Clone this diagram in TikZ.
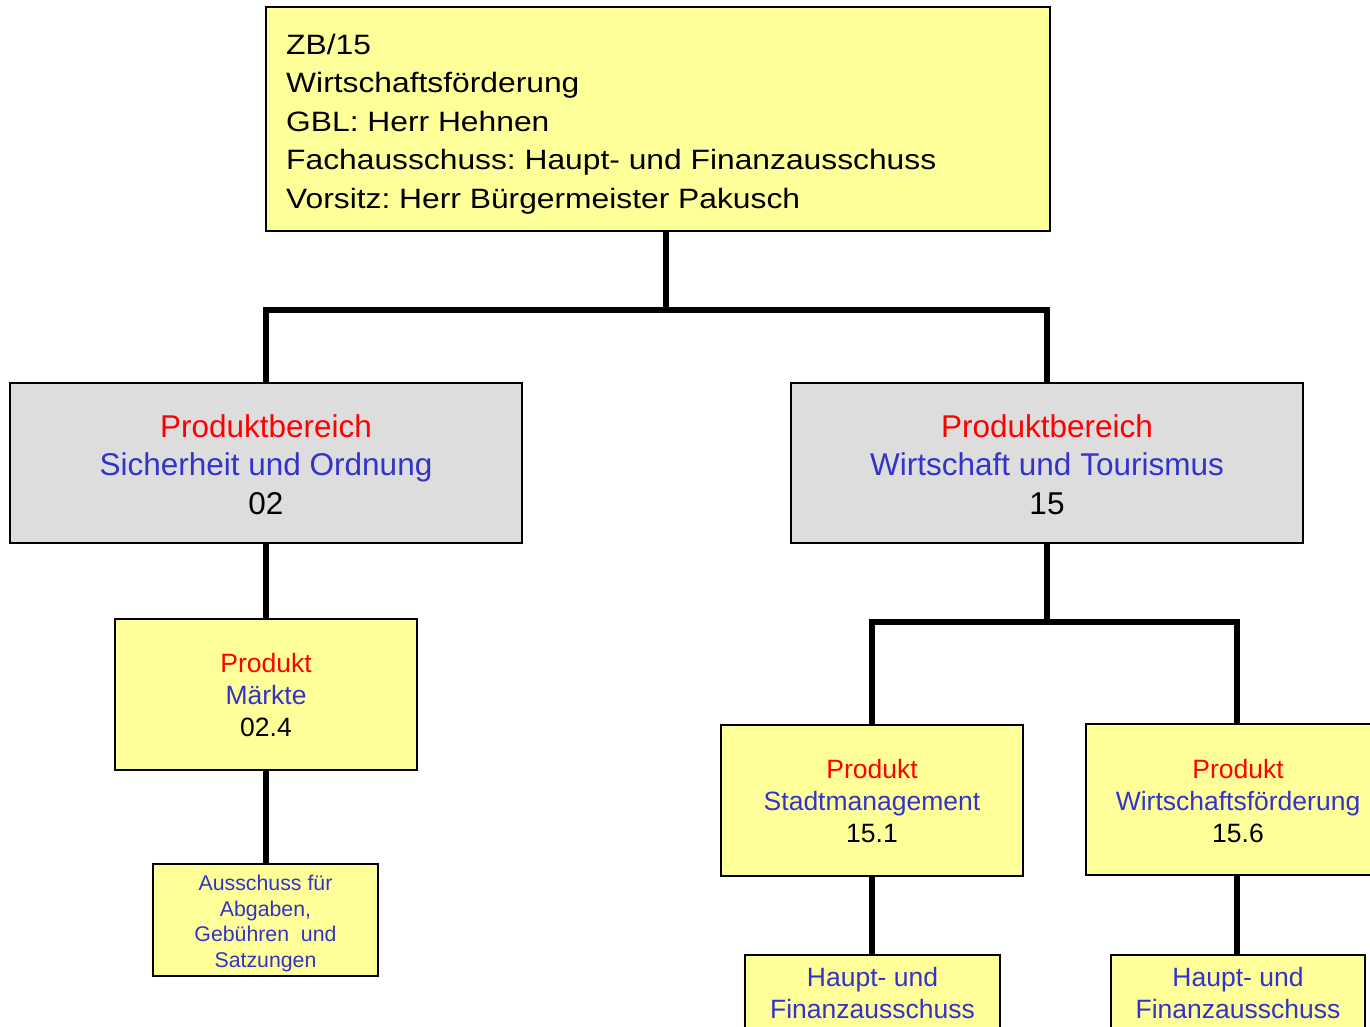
\documentclass[tikz,border=0pt]{standalone}
\usepackage{fontspec}
\setmainfont{Liberation Sans}
\newfontfamily\topfont[FakeStretch=1.135]{Liberation Sans}
\definecolor{boxyellow}{HTML}{FFFF99}
\definecolor{boxgrey}{HTML}{DDDDDD}
\definecolor{prodred}{HTML}{FF0000}
\definecolor{prodblue}{HTML}{3333CC}
\frenchspacing
\tikzset{
  box/.style={draw=black, line width=1.6pt, inner sep=0pt, rectangle},
  ybox/.style={box, fill=boxyellow},
  gbox/.style={box, fill=boxgrey},
  conn/.style={line width=6pt, black},
  txt/.style={inner sep=0pt, align=center, anchor=north},
  bigf/.style={font=\fontsize{31.5}{38.5}\selectfont},
  midf/.style={font=\fontsize{26.5}{32}\selectfont},
  smallf/.style={font=\fontsize{21.3}{25.6}\selectfont}
}
\begin{document}
\begin{tikzpicture}[x=1pt,y=-1pt]
\useasboundingbox (0,0) rectangle (1370,1027);
\clip (0,0) rectangle (1370,1027);
% boxes
\node[ybox, minimum width=784pt, minimum height=224pt] (top) at (658,119) {};
\node[gbox, minimum width=512pt, minimum height=160pt] (pbL) at (266,463) {};
\node[gbox, minimum width=512pt, minimum height=160pt] (pbR) at (1047,463) {};
\node[ybox, minimum width=302pt, minimum height=151pt] (p024) at (266,694.5) {};
\node[ybox, minimum width=225pt, minimum height=112pt] (aus) at (265.5,920) {};
\node[ybox, minimum width=302pt, minimum height=151pt] (p151) at (872,800.5) {};
\node[ybox, minimum width=302pt, minimum height=151pt] (p156) at (1237,799.5) {};
\node[ybox, minimum width=255pt, minimum height=112pt] (hL) at (872.5,1011) {};
\node[ybox, minimum width=254pt, minimum height=112pt] (hR) at (1238,1011) {};
% connectors
\coordinate (j1) at (666,310);
\coordinate (j2) at (1047,622);
\draw[conn] (top.south -| j1) -- (j1) -| (pbL.north);
\draw[conn] (j1) -| (pbR.north);
\draw[conn] (pbL.south) -- (p024.north);
\draw[conn] (p024.south) -- (p024.south |- aus.north);
\draw[conn] (pbR.south) -- (j2) -| (p151.north);
\draw[conn] (j2) -| (p156.north);
\draw[conn] (p151.south) -- (p151.south |- hL.north);
\draw[conn] (p156.south) -- (p156.south |- hR.north);
% texts
\node[inner sep=0pt, align=left, anchor=north west, font=\topfont\fontsize{28}{38.5}\selectfont] (toptxt) at (286,33.6)
  {ZB/15\\Wirtschaftsförderung\\GBL: Herr Hehnen\\Fachausschuss: Haupt- und Finanzausschuss\\Vorsitz: Herr Bürgermeister Pakusch};
\node[txt, bigf] (pbLtxt) at (266,414)
  {\textcolor{prodred}{Produktbereich}\\\textcolor{prodblue}{Sicherheit und Ordnung}\\02};
\node[txt, bigf] (pbRtxt) at (1047,414)
  {\textcolor{prodred}{Produktbereich}\\\textcolor{prodblue}{Wirtschaft und Tourismus}\\15};
\node[txt, midf] (p024txt) at (266,653.5)
  {\textcolor{prodred}{Produkt}\\\textcolor{prodblue}{Märkte}\\02.4};
\node[txt, midf] (p151txt) at (872,759)
  {\textcolor{prodred}{Produkt}\\\textcolor{prodblue}{Stadtmanagement}\\15.1};
\node[txt, midf] (p156txt) at (1238,759)
  {\textcolor{prodred}{Produkt}\\\textcolor{prodblue}{Wirtschaftsförderung}\\15.6};
\node[txt, smallf, text=prodblue] (austxt) at (265.5,875)
  {Ausschuss für\\Abgaben,\\Gebühren\ \ und\\Satzungen};
\node[txt, midf, text=prodblue] (hLtxt) at (872.5,967)
  {Haupt- und\\Finanzausschuss};
\node[txt, midf, text=prodblue] (hRtxt) at (1238,967)
  {Haupt- und\\Finanzausschuss};
\end{tikzpicture}
\end{document}
